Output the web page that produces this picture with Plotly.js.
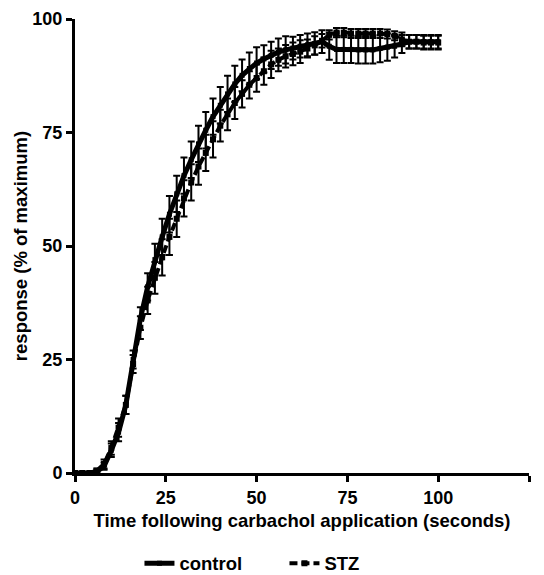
<!DOCTYPE html>
<html>
<head>
<meta charset="utf-8">
<script src="https://cdn.plot.ly/plotly-3.0.1.min.js"></script>
<style>html,body{margin:0;padding:0;background:#fff;}#chart{width:544px;height:575px;}</style>
</head>
<body>
<div id="chart"></div>
<script>
const timeSec = [0,2,4,6,8,10,12,14,16,18,20,22,24,26,28,30,32,34,36,38,40,42,44,46,48,50,52,54,56,58,60,62,64,66,68,70,72,74,76,78,80,82,84,86,88,90,92,94,96,98,100];
const controlMean = [0,0,0,0.3,1.5,5,9,15,25,34,41,47,52,57,61.5,65.5,69,72.5,75.5,78.5,81,83.5,85.7,87.6,89.1,90.3,91.2,92,92.7,93.2,93.6,94,94.3,94.6,95,94,93.3,93.3,93.3,93.2,93.2,93.2,93.5,93.8,94,94.5,95,95,95,95,95];
const controlErr = [0.2,0.2,0.2,0.3,0.8,1.5,2,2,2,2.5,3,3.5,4,4,4,4,4,4,4,4,4,4,4,3.5,3.5,3.5,3,3,3,3,2.5,2.5,2.5,2.5,2.5,3,3,3,3,3,3,3,3,3,2.5,2,1.5,1.5,1.5,1.5,1.5];
const stzMean = [0,0,0,0.5,2,5.5,10,15,24,32,38,43,47.5,52,56,60.5,64,67.5,70.5,73.5,76.5,79,81.5,83.5,85.5,87,88.5,90,91,91.8,92.3,92.8,93.5,94.2,95.2,96.5,97,97,96.8,96.8,96.8,96.8,96.8,96.7,96.3,95.5,95,95,94.8,94.8,94.8];
const stzErr = [0.2,0.2,0.3,0.5,1,1.5,2,2,2,2.5,3,3.5,4,4,4,4,4,4,4,4,3.5,3.5,3.5,3,3,3,3,3,2.5,2.5,2.5,2.5,2,2,1.5,1,1,1,1,1,1,1,1,1,1,1.5,1.5,1.5,1.5,1.5,1.5];
const seriesNames = ['control','STZ'];
const xTicks = [0,25,50,75,100,125];
const yTicks = [0,25,50,75,100];

const font = 'Liberation Sans, Arial, sans-serif';
const traces = [
  {
    x: timeSec, y: controlMean, name: seriesNames[0], type: 'scatter', mode: 'lines+markers',
    line: {color: '#000', width: 5},
    marker: {symbol: 'square', size: 5, color: '#000'},
    error_y: {type: 'data', array: controlErr, visible: true, color: '#000', thickness: 2, width: 3.5}
  },
  {
    x: timeSec, y: stzMean, name: seriesNames[1], type: 'scatter', mode: 'lines+markers',
    line: {color: '#000', width: 4, dash: '8px,4px'},
    marker: {symbol: 'square', size: 6, color: '#000'},
    error_y: {type: 'data', array: stzErr, visible: true, color: '#000', thickness: 2, width: 3.5}
  }
];
const layout = {
  width: 544, height: 575,
  margin: {l: 75, r: 15, t: 19, b: 102, autoexpand: false},
  paper_bgcolor: '#fff', plot_bgcolor: '#fff',
  showlegend: true,
  legend: {orientation: 'h', x: 0.142, xanchor: 'left', y: -0.158, yanchor: 'top',
           entrywidth: 100, entrywidthmode: 'pixels', tracegroupgap: 0,
           font: {family: font, size: 18.5, color: '#000', weight: 'bold'}},
  xaxis: {
    range: [0, 125], tickvals: xTicks, ticktext: xTicks.map(String),
    showgrid: false, zeroline: false, showline: true, linecolor: '#000', linewidth: 3,
    ticks: 'outside', ticklen: 6, tickwidth: 3, tickcolor: '#000',
    tickfont: {family: font, size: 18, color: '#000', weight: 'bold'},
    title: {text: 'Time following carbachol application (seconds)', standoff: 8,
            font: {family: font, size: 18.5, color: '#000', weight: 'bold'}}
  },
  yaxis: {
    range: [0, 100], tickvals: yTicks, ticktext: yTicks.map(String),
    showgrid: false, zeroline: false, showline: true, linecolor: '#000', linewidth: 3,
    ticks: 'outside', ticklen: 6, tickwidth: 3, tickcolor: '#000',
    tickfont: {family: font, size: 18, color: '#000', weight: 'bold'},
    title: {text: 'response (% of maximum)', standoff: 0,
            font: {family: font, size: 18.5, color: '#000', weight: 'bold'}}
  }
};
Plotly.newPlot('chart', traces, layout, {displayModeBar: false, staticPlot: true});
</script>
</body>
</html>
